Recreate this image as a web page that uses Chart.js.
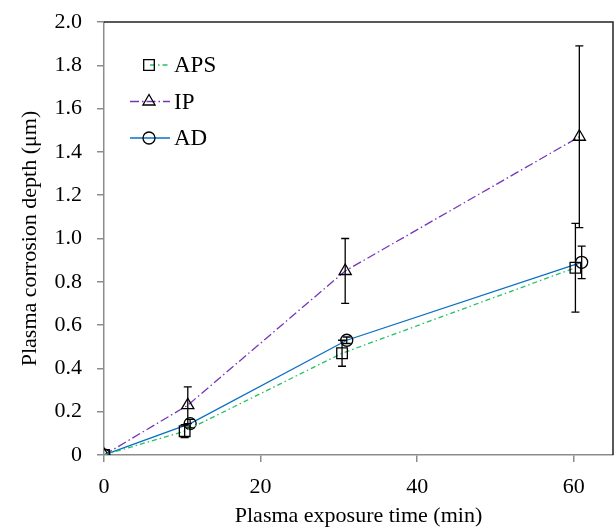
<!DOCTYPE html>
<html>
<head>
<meta charset="utf-8">
<script src="https://cdn.jsdelivr.net/npm/chart.js@4"></script>
<style>
  html, body { margin: 0; padding: 0; background: #fff; }
  #wrap { width: 616px; height: 531px; }
</style>
</head>
<body>
<div id="wrap"><canvas id="c" width="616" height="531"></canvas></div>
<script>
// series (x is slightly offset per series, as in the original)
const seriesNames = ['APS', 'IP', 'AD'];
const apsTime = [0, 10.3, 30.4, 60.2];
const apsDepth = [0, 0.11, 0.47, 0.865];
const apsErr = [0, 0.03, 0.06, 0.205];
const ipTime = [0, 10.7, 30.8, 60.7];
const ipDepth = [0, 0.23, 0.85, 1.47];
const ipErr = [0, 0.085, 0.15, 0.42];
const adTime = [0, 11, 31, 61];
const adDepth = [0, 0.145, 0.53, 0.89];
const adErr = [0, 0.02, 0.015, 0.075];
const xTicks = [0, 20, 40, 60];
const yTicks = [0, 0.2, 0.4, 0.6, 0.8, 1.0, 1.2, 1.4, 1.6, 1.8, 2.0];

const FONT = "'Liberation Serif', 'Times New Roman', serif";
const AXIS_GREY = '#8c8c8c';
const RIGHT_GAP = 3;

function pts(xs, ys) {
    return xs.map((x, i) => ({ x: x, y: ys[i] }));
}

const errors = [apsErr, ipErr, adErr];

// layout leaves a few extra px on the right; stretch the x scale to the frame
const fitArea = {
    id: 'fitArea',
    afterLayout(chart) {
        const a = chart.chartArea;
        const want = chart.width - RIGHT_GAP;
        const d = want - a.right;
        if (Math.abs(d) < 0.5) return;
        a.right = want;
        a.width += d;
        const xs = chart.scales.x;
        xs.right = want;
        xs.width += d;
        xs.configure();
    }
};

const errorBars = {
    id: 'errorBars',
    afterDatasetsDraw(chart) {
        const ctx = chart.ctx;
        const xs = chart.scales.x, ys = chart.scales.y;
        ctx.save();
        ctx.strokeStyle = '#000';
        ctx.lineWidth = 1.3;
        chart.data.datasets.forEach((ds, d) => {
            ds.data.forEach((p, i) => {
                const e = errors[d][i];
                if (!e) return;
                const px = xs.getPixelForValue(p.x);
                const top = ys.getPixelForValue(p.y + e);
                const bot = ys.getPixelForValue(p.y - e);
                ctx.beginPath();
                ctx.moveTo(px, top); ctx.lineTo(px, bot);
                ctx.moveTo(px - 4, top); ctx.lineTo(px + 4, top);
                ctx.moveTo(px - 4, bot); ctx.lineTo(px + 4, bot);
                ctx.stroke();
            });
        });
        ctx.restore();
    }
};

const frame = {
    id: 'frame',
    afterDraw(chart) {
        const a = chart.chartArea;
        const ctx = chart.ctx;
        ctx.save();
        ctx.strokeStyle = '#222';
        ctx.lineWidth = 1.5;
        ctx.beginPath();
        ctx.moveTo(a.left, a.top);
        ctx.lineTo(a.right, a.top);
        ctx.lineTo(a.right, a.bottom);
        ctx.stroke();
        ctx.restore();
    }
};

// legend drawn by hand: line sample running through the marker
const legendBox = {
    id: 'legendBox',
    afterDraw(chart) {
        const ctx = chart.ctx;
        ctx.save();
        chart.data.datasets.forEach((ds, i) => {
            const y = 65 + i * 36.5;
            ctx.strokeStyle = ds.borderColor;
            ctx.lineWidth = ds.borderWidth;
            ctx.setLineDash(ds.borderDash || []);
            ctx.beginPath();
            ctx.moveTo(i === 0 ? 150 : 130, y);
            ctx.lineTo(170, y);
            ctx.stroke();
            ctx.setLineDash([]);
            ctx.strokeStyle = '#000';
            ctx.fillStyle = 'rgba(0,0,0,0)';
            ctx.lineWidth = 1.3;
            Chart.helpers.drawPoint(ctx, {
                pointStyle: ds.pointStyle,
                radius: ds.pointRadius,
                borderWidth: 1.3
            }, 149, y);
            ctx.fillStyle = '#000';
            ctx.font = '23px ' + FONT;
            ctx.textBaseline = 'middle';
            ctx.fillText(ds.label, 174, y + 1);
        });
        ctx.restore();
    }
};

function series(label, xs, ys, color, dash, style, radius) {
    return {
        label: label,
        data: pts(xs, ys),
        showLine: true,
        borderColor: color,
        borderWidth: 1.3,
        borderDash: dash,
        pointStyle: style,
        pointRadius: radius,
        pointBorderColor: '#000',
        pointBackgroundColor: 'rgba(0,0,0,0)',
        pointBorderWidth: 1.3,
        tension: 0
    };
}

new Chart(document.getElementById('c'), {
    type: 'scatter',
    data: {
        datasets: [
            series(seriesNames[0], apsTime, apsDepth, '#26c063', [5, 3, 1.5, 3], 'rect', 7.5),
            series(seriesNames[1], ipTime, ipDepth, '#7636b8', [9, 3, 1.5, 3], 'triangle', 7),
            series(seriesNames[2], adTime, adDepth, '#0a6fc7', [], 'circle', 6)
        ]
    },
    plugins: [fitArea, errorBars, frame, legendBox],
    options: {
        responsive: false,
        animation: false,
        layout: { padding: { left: 0, top: 22, right: RIGHT_GAP, bottom: 0 } },
        plugins: {
            legend: { display: false },
            tooltip: { enabled: false }
        },
        scales: {
            x: {
                type: 'linear',
                min: 0,
                max: 65,
                afterBuildTicks: s => { s.ticks = xTicks.map(v => ({ value: v })); },
                afterFit: s => { s.height = 76; s.paddingRight = 0; s.paddingLeft = 0; },
                ticks: {
                    color: '#000',
                    font: { family: FONT, size: 22 },
                    padding: 12,
                    maxRotation: 0
                },
                grid: { drawOnChartArea: false, tickLength: 7, color: AXIS_GREY, lineWidth: 1.5 },
                border: { color: AXIS_GREY, width: 1.5 },
                title: {
                    display: true,
                    text: 'Plasma exposure time (min)',
                    color: '#000',
                    font: { family: FONT, size: 22 },
                    padding: { top: 0, bottom: 2 }
                }
            },
            y: {
                min: 0,
                max: 2,
                afterBuildTicks: s => { s.ticks = yTicks.map(v => ({ value: v })); },
                afterFit: s => { s.width = 104; s.paddingTop = 0; s.paddingBottom = 0; },
                ticks: {
                    color: '#000',
                    font: { family: FONT, size: 22 },
                    padding: 15,
                    callback: v => v === 0 ? '0' : v.toFixed(1)
                },
                grid: { drawOnChartArea: false, tickLength: 7, color: AXIS_GREY, lineWidth: 1.5 },
                border: { color: AXIS_GREY, width: 1.5 },
                title: {
                    display: true,
                    text: 'Plasma corrosion depth (\u03bcm)',
                    color: '#000',
                    font: { family: FONT, size: 22 },
                    padding: { top: 17, bottom: 0 }
                }
            }
        }
    }
});
</script>
</body>
</html>
